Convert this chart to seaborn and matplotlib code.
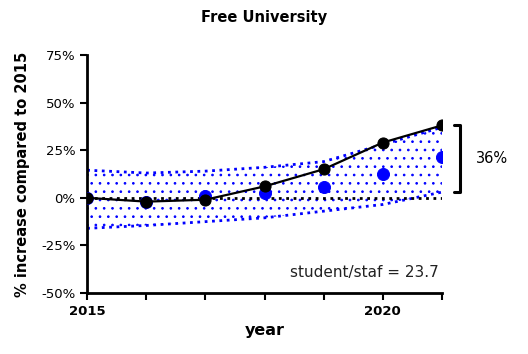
import numpy as np
import pandas as pd
import seaborn as sns
import matplotlib.pyplot as plt

years = [2015, 2016, 2017, 2018, 2019, 2020, 2021]
students = [0, -2, -1, 6, 15, 29, 38]
staff = [0, -2, 1, 2.5, 5.5, 12.5, 21.5]
band_upper = [14.5, 13, 14, 16, 19, 28, 37]
band_lower = [-16, -14.5, -12.5, -10.5, -7, -3.5, 3]
baseline = [0, 0, 0, 0, 0, 0, 0]
gap_label = "36%"
ratio_label = "student/staf = 23.7"

df = pd.DataFrame({"year": years, "students": students, "staff": staff,
                   "upper": band_upper, "lower": band_lower, "base": baseline})

sns.set_style("ticks")
plt.rcParams['font.family'] = ['DejaVu Sans']
plt.rcParams['hatch.linewidth'] = 0.7
plt.rcParams['hatch.color'] = 'blue'
plt.rcParams['text.color'] = 'black'
plt.rcParams['axes.labelcolor'] = 'black'
plt.rcParams['xtick.color'] = 'black'
plt.rcParams['ytick.color'] = 'black'

fig = plt.figure(figsize=(5.28, 3.54), dpi=100)
ax = fig.add_axes([0.165, 0.172, 0.672, 0.673])

# band
ax.fill_between(df["year"], df["lower"], df["upper"], facecolor="none",
                edgecolor="blue", hatch="..", linewidth=0)
sns.lineplot(data=df, x="year", y="upper", ax=ax, color="blue", linestyle=":", linewidth=2)
sns.lineplot(data=df, x="year", y="lower", ax=ax, color="blue", linestyle=":", linewidth=2)
sns.lineplot(data=df, x="year", y="base", ax=ax, color="black", linestyle=":", linewidth=2)

sns.scatterplot(data=df, x="year", y="staff", ax=ax, color="blue", s=75, edgecolor="blue", zorder=4)
sns.lineplot(data=df, x="year", y="students", ax=ax, color="black", linewidth=1.6,
             marker="o", markersize=8, markeredgecolor="black", zorder=5)

ax.set_xlim(2015, 2021)
ax.set_ylim(-50, 75)
ax.set_xticks(years)
ax.set_xticklabels(["2015", "", "", "", "", "2020", ""], fontweight="bold", fontsize=9.5)
ax.set_yticks([-50, -25, 0, 25, 50, 75])
ax.set_yticklabels(["-50%", "-25%", "0%", "25%", "50%", "75%"], fontsize=9.5)
ax.tick_params(width=1.5, length=5)
for s in ["left", "bottom"]:
    ax.spines[s].set_linewidth(2)
    ax.spines[s].set_color("black")
sns.despine(ax=ax)

ax.set_xlabel("year", fontweight="bold", fontsize=11.5)
ax.set_ylabel("% increase compared to 2015", fontweight="bold", fontsize=10.5, labelpad=8)
ax.set_title("Free University", fontweight="bold", fontsize=10.5, pad=24)

# bracket for the gap in the last year
top, bot = students[-1], band_lower[-1]
ax.plot([2021.2, 2021.3, 2021.3, 2021.2], [top, top, bot, bot], color="black",
        linewidth=2.2, clip_on=False)
ax.text(2021.85, (top + bot) / 2, gap_label, ha="center", va="center", fontsize=10.5)
ax.text(2020.95, -39, ratio_label, ha="right", va="center", fontsize=11, color="#222222")

fig.savefig("out.png", dpi=100)
